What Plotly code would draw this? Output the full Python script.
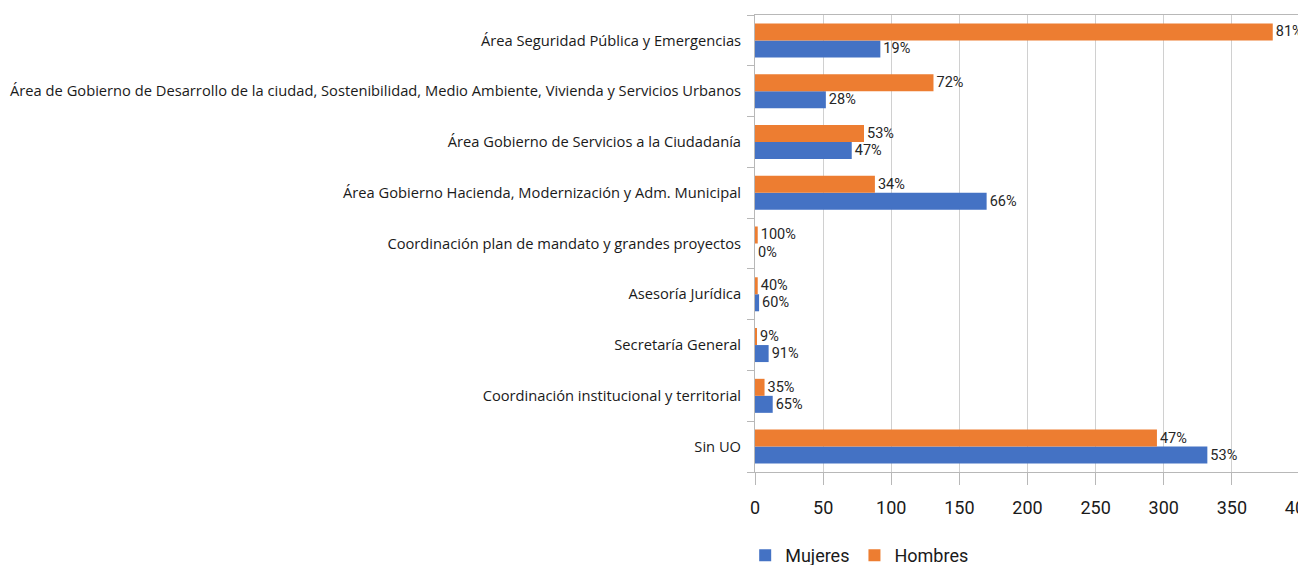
import plotly.graph_objects as go

# Categories listed top to bottom as they appear in the chart
categories = [
    "Área Seguridad Pública y Emergencias",
    "Área de Gobierno de Desarrollo de la ciudad, Sostenibilidad, Medio Ambiente, Vivienda y Servicios Urbanos",
    "Área Gobierno de Servicios a la Ciudadanía",
    "Área Gobierno Hacienda, Modernización y Adm. Municipal",
    "Coordinación plan de mandato y grandes proyectos",
    "Asesoría Jurídica",
    "Secretaría General",
    "Coordinación institucional y territorial",
    "Sin UO",
]
mujeres = [92, 52, 71, 170, 0, 3, 10, 13, 332]
hombres = [380, 131, 80, 88, 2, 2, 1, 7, 295]
mujeres_pct = ["19%", "28%", "47%", "66%", "0%", "60%", "91%", "65%", "53%"]
hombres_pct = ["81%", "72%", "53%", "34%", "100%", "40%", "9%", "35%", "47%"]

narrow = "Roboto, Liberation Sans, sans-serif"
label_font = "Open Sans, Noto Sans, sans-serif"

# plot bottom-to-top so Mujeres sits under Hombres in each group
cats = categories[::-1]

fig = go.Figure()
fig.add_trace(go.Bar(
    y=cats, x=mujeres[::-1], orientation="h", name="Mujeres",
    marker=dict(color="#4472C4", line=dict(width=0)),
    text=mujeres_pct[::-1], textposition="outside", constraintext="none",
    cliponaxis=False, textfont=dict(family=narrow, size=14.5, color="#262626"),
))
fig.add_trace(go.Bar(
    y=cats, x=hombres[::-1], orientation="h", name="Hombres",
    marker=dict(color="#ED7D31", line=dict(width=0)),
    text=hombres_pct[::-1], textposition="outside", constraintext="none",
    cliponaxis=False, textfont=dict(family=narrow, size=14.5, color="#262626"),
))

# the page body adds an 8px margin, so the figure is sized/offset to compensate
fig.update_layout(
    width=1298, height=557,
    margin=dict(l=747, r=6, t=7, b=93, autoexpand=False),
    barmode="group", bargap=0.33, bargroupgap=0,
    plot_bgcolor="white", paper_bgcolor="white",
    legend=dict(orientation="h", x=-0.018, xanchor="left",
                yref="container", y=0.017, yanchor="middle",
                font=dict(family=narrow, size=18, color="#1a1a1a"),
                itemwidth=30, tracegroupgap=0),
    xaxis=dict(range=[0, 400], dtick=50, showgrid=True, gridcolor="#d0d0d0", gridwidth=1,
               zeroline=False, showline=True, linecolor="#b8b8b8", mirror=True,
               ticks="outside", ticklen=12, tickcolor="#b8b8b8",
               ticklabelstandoff=7, ticklabeloverflow="allow", automargin=False,
               tickfont=dict(family=narrow, size=18, color="#1a1a1a")),
    yaxis=dict(showgrid=False, showline=True, linecolor="#b8b8b8",
               ticks="outside", ticklen=7, tickcolor="#b8b8b8", tickson="boundaries",
               ticklabelstandoff=10, automargin=False,
               tickfont=dict(family=label_font, size=14.7, color="#1a1a1a")),
)

fig.write_html("out.html")
